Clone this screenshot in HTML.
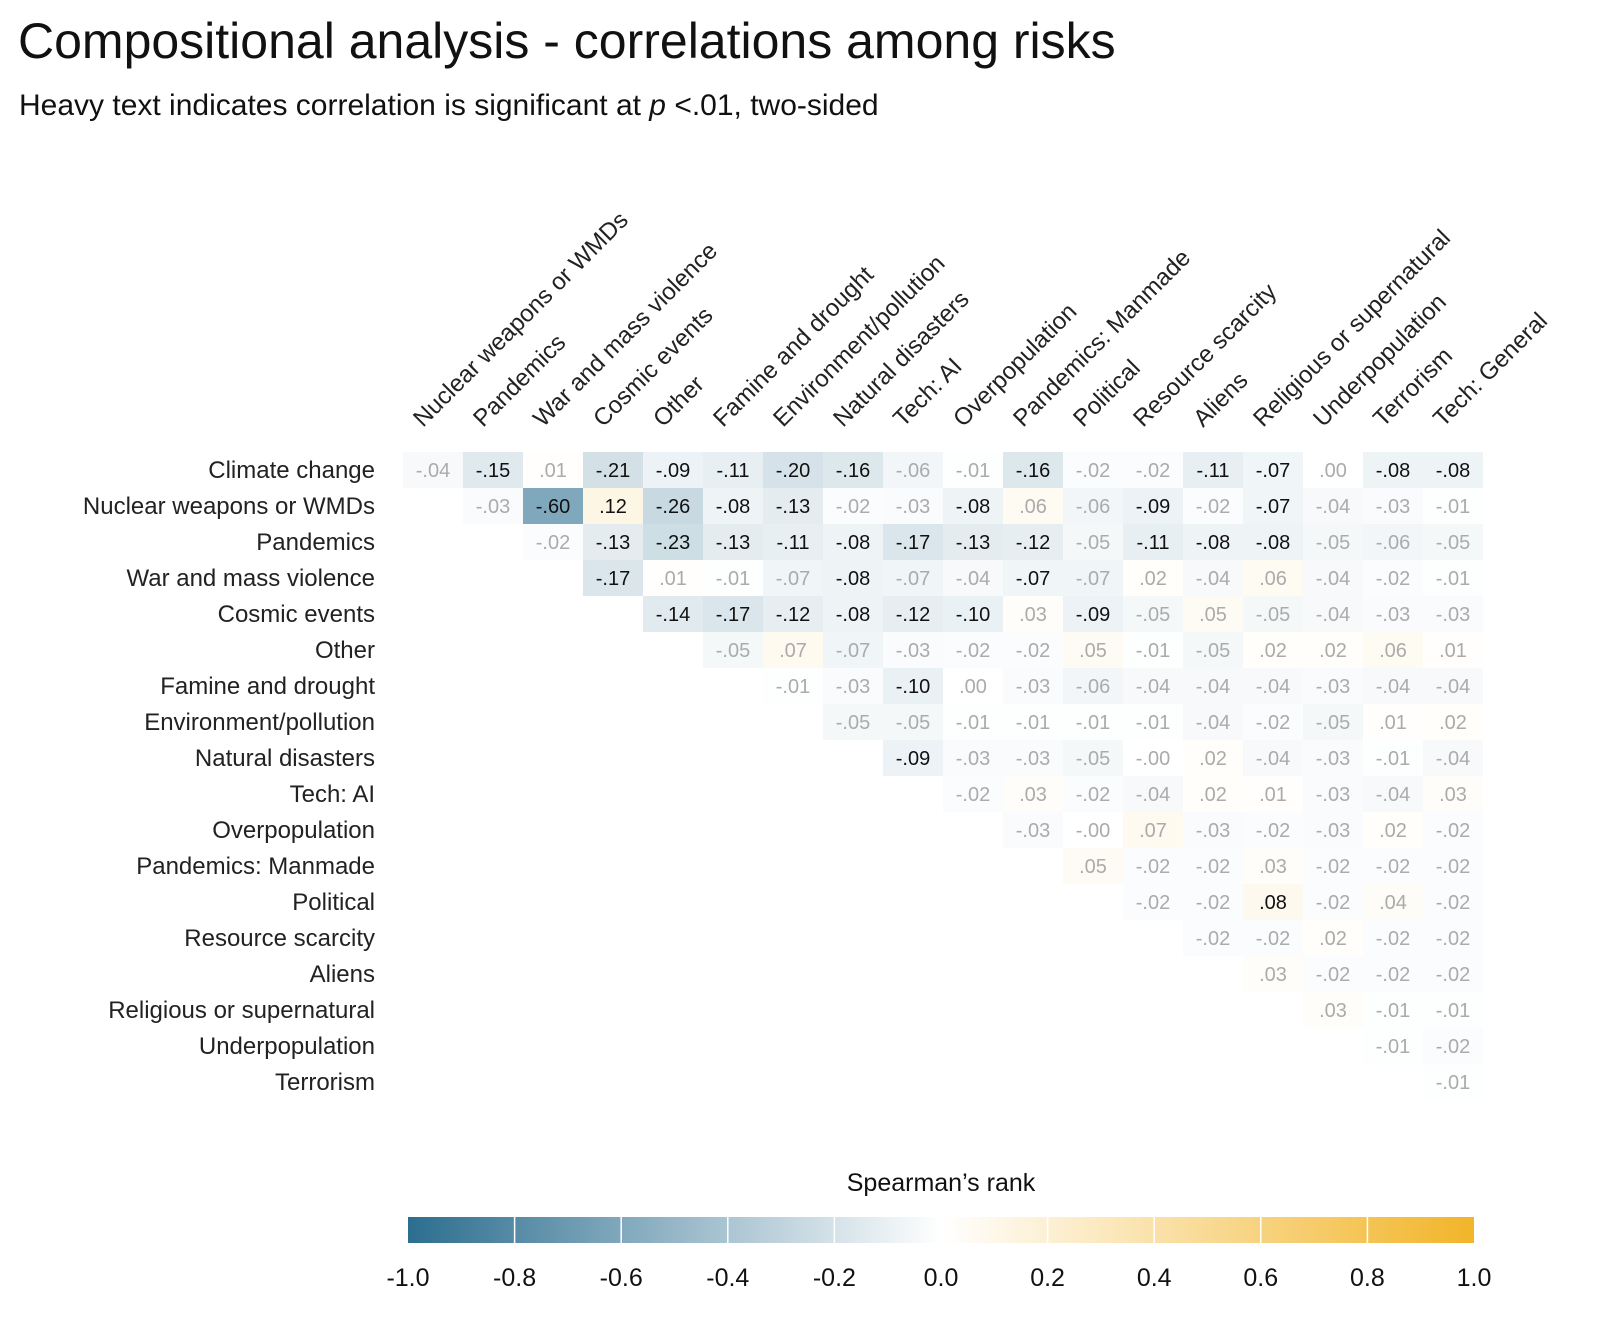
<!DOCTYPE html>
<html><head><meta charset="utf-8"><style>
body{margin:0;background:#fff;}
svg{display:block;font-family:"Liberation Sans",sans-serif;}
</style></head><body>
<svg id="chart" width="1600" height="1334" viewBox="0 0 1600 1334">
<text x="18" y="58" font-size="50" fill="#111">Compositional analysis - correlations among risks</text>
<text x="19" y="115" font-size="30" fill="#111">Heavy text indicates correlation is significant at <tspan font-style="italic">p</tspan> &lt;.01, two-sided</text>
<g id="grid"></g>
<g id="rowlabels"></g>
<g id="collabels"></g>
<g id="legend"></g>
</svg>
<script>
const rowLabels = ["Climate change","Nuclear weapons or WMDs","Pandemics","War and mass violence","Cosmic events","Other","Famine and drought","Environment/pollution","Natural disasters","Tech: AI","Overpopulation","Pandemics: Manmade","Political","Resource scarcity","Aliens","Religious or supernatural","Underpopulation","Terrorism"];
const colLabels = ["Nuclear weapons or WMDs","Pandemics","War and mass violence","Cosmic events","Other","Famine and drought","Environment/pollution","Natural disasters","Tech: AI","Overpopulation","Pandemics: Manmade","Political","Resource scarcity","Aliens","Religious or supernatural","Underpopulation","Terrorism","Tech: General"];
const values = [
[-.04,-.15,.01,-.21,-.09,-.11,-.20,-.16,-.06,-.01,-.16,-.02,-.02,-.11,-.07,.00,-.08,-.08],
[-.03,-.60,.12,-.26,-.08,-.13,-.02,-.03,-.08,.06,-.06,-.09,-.02,-.07,-.04,-.03,-.01],
[-.02,-.13,-.23,-.13,-.11,-.08,-.17,-.13,-.12,-.05,-.11,-.08,-.08,-.05,-.06,-.05],
[-.17,.01,-.01,-.07,-.08,-.07,-.04,-.07,-.07,.02,-.04,.06,-.04,-.02,-.01],
[-.14,-.17,-.12,-.08,-.12,-.10,.03,-.09,-.05,.05,-.05,-.04,-.03,-.03],
[-.05,.07,-.07,-.03,-.02,-.02,.05,-.01,-.05,.02,.02,.06,.01],
[-.01,-.03,-.10,.00,-.03,-.06,-.04,-.04,-.04,-.03,-.04,-.04],
[-.05,-.05,-.01,-.01,-.01,-.01,-.04,-.02,-.05,.01,.02],
[-.09,-.03,-.03,-.05,-.00,.02,-.04,-.03,-.01,-.04],
[-.02,.03,-.02,-.04,.02,.01,-.03,-.04,.03],
[-.03,-.00,.07,-.03,-.02,-.03,.02,-.02],
[.05,-.02,-.02,.03,-.02,-.02,-.02],
[-.02,-.02,.08,-.02,.04,-.02],
[-.02,-.02,.02,-.02,-.02],
[.03,-.02,-.02,-.02],
[.03,-.01,-.01],
[-.01,-.02],
[-.01]
];
const labelsText = [
["-.04","-.15",".01","-.21","-.09","-.11","-.20","-.16","-.06","-.01","-.16","-.02","-.02","-.11","-.07",".00","-.08","-.08"],
["-.03","-.60",".12","-.26","-.08","-.13","-.02","-.03","-.08",".06","-.06","-.09","-.02","-.07","-.04","-.03","-.01"],
["-.02","-.13","-.23","-.13","-.11","-.08","-.17","-.13","-.12","-.05","-.11","-.08","-.08","-.05","-.06","-.05"],
["-.17",".01","-.01","-.07","-.08","-.07","-.04","-.07","-.07",".02","-.04",".06","-.04","-.02","-.01"],
["-.14","-.17","-.12","-.08","-.12","-.10",".03","-.09","-.05",".05","-.05","-.04","-.03","-.03"],
["-.05",".07","-.07","-.03","-.02","-.02",".05","-.01","-.05",".02",".02",".06",".01"],
["-.01","-.03","-.10",".00","-.03","-.06","-.04","-.04","-.04","-.03","-.04","-.04"],
["-.05","-.05","-.01","-.01","-.01","-.01","-.04","-.02","-.05",".01",".02"],
["-.09","-.03","-.03","-.05","-.00",".02","-.04","-.03","-.01","-.04"],
["-.02",".03","-.02","-.04",".02",".01","-.03","-.04",".03"],
["-.03","-.00",".07","-.03","-.02","-.03",".02","-.02"],
[".05","-.02","-.02",".03","-.02","-.02","-.02"],
["-.02","-.02",".08","-.02",".04","-.02"],
["-.02","-.02",".02","-.02","-.02"],
[".03","-.02","-.02","-.02"],
[".03","-.01","-.01"],
["-.01","-.02"],
["-.01"]
];
const significant = ["0,1","0,3","0,4","0,5","0,6","0,7","0,10","0,13","0,14","0,16","0,17",
"1,2","1,3","1,4","1,5","1,6","1,9","1,12","1,14",
"2,3","2,4","2,5","2,6","2,7","2,8","2,9","2,10","2,12","2,13","2,14",
"3,3","3,7","3,10",
"4,4","4,5","4,6","4,7","4,8","4,9","4,11",
"6,8","8,8","12,14"];
const legendTicks = [-1,-0.8,-0.6,-0.4,-0.2,0,0.2,0.4,0.6,0.8,1];

const NS="http://www.w3.org/2000/svg";
const X0=403, CW=60, Y0=452, RH=36;
const colX = c => X0 + c*CW;
const rowY = r => Y0 + r*RH;
const neg=[44,110,143], pos=[242,181,42];
function color(v){
  const t=Math.min(1,Math.abs(v)); const b=v<0?neg:pos;
  const c=b.map(k=>Math.round(255+(k-255)*t));
  return `rgb(${c[0]},${c[1]},${c[2]})`;
}
function mk(tag,attrs,parent){const e=document.createElementNS(NS,tag);for(const k in attrs)e.setAttribute(k,attrs[k]);parent.appendChild(e);return e;}
const grid=document.getElementById('grid');
values.forEach((row,r)=>{
  row.forEach((v,k)=>{
    const c=r+k;
    const rect=mk('rect',{x:colX(c),y:rowY(r),width:CW,height:RH,fill:color(v)},grid);
    
    
    const sig=significant.includes(r+','+c);
    const t=mk('text',{x:colX(c)+CW/2,y:rowY(r)+RH/2+7,'text-anchor':'middle','font-size':20,fill:sig?'#111':'#ababab'},grid);
    t.textContent=labelsText[r][k];
    
    
  });
});
const rl=document.getElementById('rowlabels');
rowLabels.forEach((s,r)=>{
  const t=mk('text',{x:375,y:rowY(r)+RH/2+8,'text-anchor':'end','font-size':24,fill:'#222'},rl);
  t.textContent=s;
  
  
});
const cl=document.getElementById('collabels');
colLabels.forEach((s,c)=>{
  const x=colX(c)+CW/2-10, y=428;
  const t=mk('text',{x:x,y:y,'font-size':24,fill:'#222',transform:`rotate(-45 ${x} ${y})`},cl);
  t.textContent=s;
  
  
});
const lg=document.getElementById('legend');
const LX0=408, LX1=1474, LY=1217, LH=26;
const lx=v=>LX0+(v+1)/2*(LX1-LX0);
const defs=mk('defs',{},lg);
const grad=mk('linearGradient',{id:'lgGrad',x1:0,x2:1,y1:0,y2:0},defs);
mk('stop',{offset:'0%','stop-color':color(-1)},grad);
mk('stop',{offset:'50%','stop-color':'#ffffff'},grad);
mk('stop',{offset:'100%','stop-color':color(1)},grad);
const bar=mk('rect',{x:LX0,y:LY,width:LX1-LX0,height:LH,fill:'url(#lgGrad)'},lg);


const lt=mk('text',{x:(LX0+LX1)/2,y:1191,'text-anchor':'middle','font-size':25,fill:'#111'},lg);
lt.textContent="Spearman\u2019s rank";


legendTicks.forEach(v=>{
  const x=lx(v);
  if(v>-1&&v<1){const l=mk('line',{x1:x,x2:x,y1:LY,y2:LY+LH,stroke:'#fff','stroke-width':1.5},lg);
  
  }
  const t=mk('text',{x:x,y:1286,'text-anchor':'middle','font-size':25,fill:'#111'},lg);
  t.textContent=v.toFixed(1);
  
  
});
</script>
</body></html>
